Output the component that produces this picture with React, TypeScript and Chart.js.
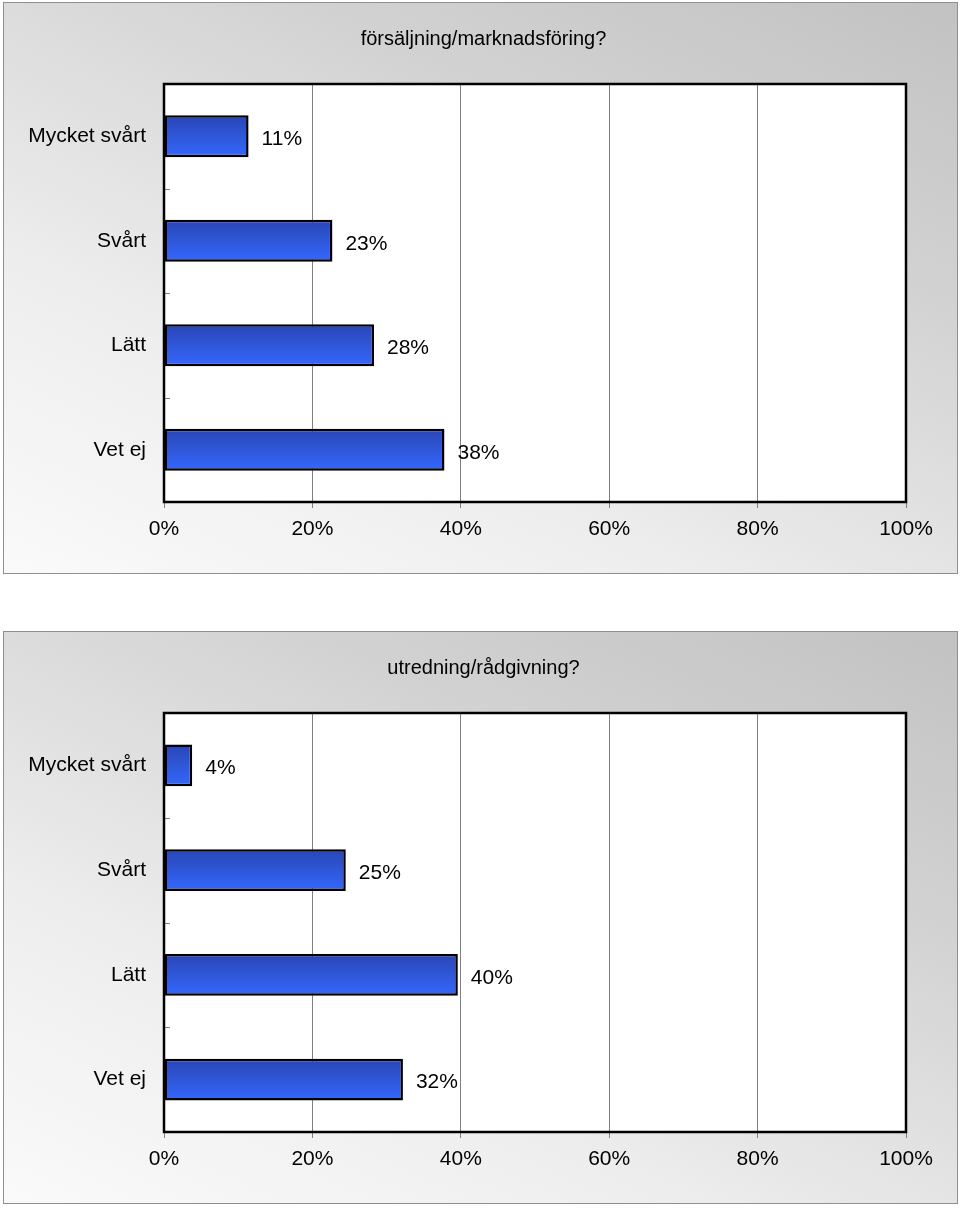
import React, { useEffect, useRef } from "react";
import { Chart, registerables } from "chart.js";

Chart.register(...registerables);

const categories = ["Mycket svårt", "Svårt", "Lätt", "Vet ej"];
const titleSales = "försäljning/marknadsföring?";
const valuesSales = [11.4, 22.7, 28.3, 37.8];
const titleAdvice = "utredning/rådgivning?";
const valuesAdvice = [3.8, 24.5, 39.6, 32.2];
const xTicks = [0, 20, 40, 60, 80, 100];

const FONT = '"Liberation Sans", Arial, Helvetica, sans-serif';
const BAR_PCT = 0.4;

if (typeof document !== "undefined") {
  document.body.style.margin = "0";
}

const framePlugin = {
  id: "frameAndLabels",
  beforeDraw(chart: any) {
    const { ctx, chartArea: a } = chart;
    ctx.save();
    ctx.fillStyle = "#ffffff";
    ctx.fillRect(a.left, a.top, a.right - a.left, a.bottom - a.top);
    const t = chart.options.plugins.panelTitle?.text;
    if (t) {
      ctx.fillStyle = "#000000";
      ctx.font = `20px ${FONT}`;
      ctx.textAlign = "center";
      ctx.textBaseline = "middle";
      ctx.fillText(t, chart.width / 2 + 3, 36);
    }
    ctx.restore();
  },
  afterDatasetsDraw(chart: any) {
    const { ctx, chartArea: a } = chart;
    const ys = chart.scales.y;
    ctx.save();
    ctx.strokeStyle = "#808080";
    ctx.lineWidth = 1;
    const n = chart.data.labels.length;
    for (let i = 0; i < n - 1; i++) {
      const yb = Math.round((ys.getPixelForValue(i) + ys.getPixelForValue(i + 1)) / 2) + 0.5;
      ctx.beginPath();
      ctx.moveTo(a.left, yb);
      ctx.lineTo(a.left + 6, yb);
      ctx.stroke();
    }
    ctx.strokeStyle = "#000000";
    ctx.lineWidth = 2.5;
    ctx.strokeRect(a.left, a.top, a.right - a.left, a.bottom - a.top);
    const meta = chart.getDatasetMeta(0);
    const data = chart.data.datasets[0].data;
    ctx.fillStyle = "#000000";
    ctx.font = `21px ${FONT}`;
    ctx.textAlign = "left";
    ctx.textBaseline = "middle";
    meta.data.forEach((el: any, i: number) => {
      const p = el.getProps(["x", "y"], true);
      ctx.fillText(`${Math.round(data[i])}%`, p.x + 13, p.y + 3);
    });
    ctx.restore();
  },
};

function BarPanel({ title, values, top, height }: { title: string; values: number[]; top: number; height: number }) {
  const ref = useRef<HTMLCanvasElement | null>(null);
  useEffect(() => {
    if (!ref.current) return;
    const chart = new Chart(ref.current, {
      type: "bar",
      data: {
        labels: categories,
        datasets: [
          {
            data: values,
            borderColor: "#000000",
            borderWidth: 2.5,
            borderSkipped: false,
            categoryPercentage: 1,
            barPercentage: BAR_PCT,
            backgroundColor: (c: any) => {
              const ch = c.chart;
              const ys = ch.scales && ch.scales.y;
              if (!ys || c.dataIndex === undefined || !ys.height) return "#3060f0";
              const center = ys.getPixelForValue(c.dataIndex);
              const half = ((ys.height / categories.length) * BAR_PCT) / 2;
              const g = ch.ctx.createLinearGradient(0, center - half, 0, center + half);
              g.addColorStop(0, "#2945b5");
              g.addColorStop(0.5, "#2f57d8");
              g.addColorStop(1, "#3467ff");
              return g;
            },
          },
        ],
      },
      options: {
        indexAxis: "y",
        animation: false,
        responsive: false,
        maintainAspectRatio: false,
        layout: { padding: { left: 0, right: 51, top: 81, bottom: 0 } },
        plugins: {
          legend: { display: false },
          tooltip: { enabled: false },
          title: { display: false },
          panelTitle: { text: title },
        },
        scales: {
          x: {
            type: "linear",
            min: 0,
            max: 100,
            afterBuildTicks: (s: any) => {
              s.ticks = xTicks.map((v) => ({ value: v }));
            },
            afterFit: (s: any) => {
              s.height = 71;
            },
            ticks: {
              callback: (v: any) => `${v}%`,
              color: "#000000",
              font: { family: FONT, size: 21 },
              padding: 9,
              maxRotation: 0,
            },
            grid: { color: "#808080", lineWidth: 1, tickLength: 6, drawTicks: true },
            border: { display: false },
          },
          y: {
            type: "category",
            afterFit: (s: any) => {
              s.width = 160;
            },
            ticks: {
              color: "#000000",
              font: { family: FONT, size: 21 },
              padding: 18,
            },
            grid: { display: false, drawTicks: false },
            border: { display: false },
          },
        },
      },
      plugins: [framePlugin],
    } as any);
    return () => chart.destroy();
  }, []);
  return (
    <div
      style={{
        position: "absolute",
        left: 3,
        top,
        width: 955,
        height,
        boxSizing: "border-box",
        border: "1px solid #8f8f8f",
        background: "linear-gradient(205deg, #c2c2c2 0%, #d2d2d2 30%, #eeeeee 70%, #fafafa 100%)",
      }}
    >
      <canvas ref={ref} width={953} height={height - 2} style={{ display: "block" }} />
    </div>
  );
}

export default function App() {
  return (
    <div style={{ position: "relative", width: 960, height: 1208, background: "#ffffff" }}>
      <BarPanel title={titleSales} values={valuesSales} top={2} height={572} />
      <BarPanel title={titleAdvice} values={valuesAdvice} top={631} height={573} />
    </div>
  );
}
